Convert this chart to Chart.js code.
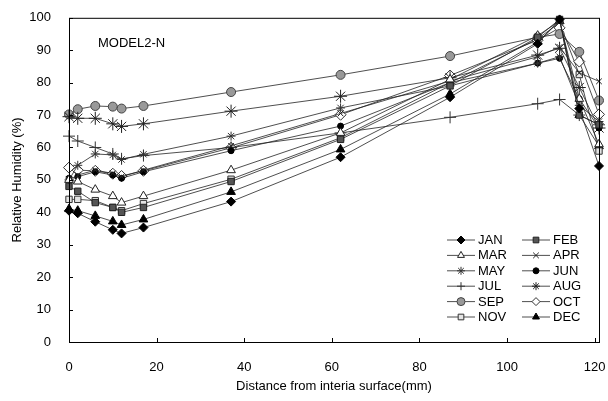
<!DOCTYPE html>
<html>
<head>
    <title>MODEL2-N Relative Humidity</title>
    <script src="https://cdn.jsdelivr.net/npm/chart.js"></script>
    <style>
        body { margin: 0; background: #fff; }
        #rhChart { display: block; }
    </style>
</head>
<body>
    <canvas id="rhChart" width="608" height="401"></canvas>

    <script>
        // distance from interior surface (mm)
        const distance = [0, 2, 6, 10, 12, 17, 37, 62, 87, 107, 112, 116.5, 121];

        // relative humidity (%) per month
        const jan = [40.5, 39.7, 37.1, 34.6, 33.5, 35.3, 43.3, 57.0, 75.5, 92.0, 99.5, 72.0, 54.3];
        const feb = [48.0, 46.5, 43.0, 41.5, 40.0, 41.5, 49.5, 62.5, 79.0, 94.0, 99.5, 70.0, 67.0];
        const mar = [50.0, 49.5, 47.0, 45.0, 43.0, 45.0, 53.0, 64.5, 81.0, 94.5, 99.0, 75.0, 61.0];
        const apr = [49.0, 51.5, 53.0, 52.0, 51.0, 53.0, 60.5, 70.5, 80.5, 88.0, 91.0, 83.0, 80.4];
        const may = [50.0, 54.5, 58.0, 57.7, 56.3, 57.9, 63.5, 72.2, 79.0, 86.0, 88.0, 73.0, 68.0];
        const jun = [50.5, 51.0, 52.5, 51.5, 50.5, 52.5, 59.0, 66.6, 80.0, 86.0, 87.5, 75.0, 66.0];
        const jul = [63.5, 62.0, 60.0, 58.0, 56.5, 57.5, 60.0, 64.5, 69.3, 73.5, 74.8, 70.0, 67.0];
        const aug = [69.5, 69.0, 69.0, 67.3, 66.5, 67.3, 71.2, 75.8, 81.5, 88.5, 90.6, 78.5, 66.0];
        const sep = [70.2, 71.8, 72.8, 72.6, 72.0, 72.8, 77.1, 82.4, 88.2, 94.0, 95.0, 89.5, 74.5];
        const oct = [53.8, 53.0, 52.8, 51.9, 51.2, 52.8, 59.9, 70.1, 82.2, 93.1, 96.9, 86.5, 70.2];
        const nov = [44.0, 44.0, 43.6, 41.5, 40.5, 42.7, 50.2, 63.0, 80.0, 93.5, 98.5, 82.5, 58.9];
        const dec = [41.0, 40.5, 38.9, 37.2, 36.1, 37.8, 46.3, 59.4, 76.5, 92.5, 99.0, 70.0, 60.4];

        const months = ['JAN', 'FEB', 'MAR', 'APR', 'MAY', 'JUN', 'JUL', 'AUG', 'SEP', 'OCT', 'NOV', 'DEC'];
        const values = [jan, feb, mar, apr, may, jun, jul, aug, sep, oct, nov, dec];

        const xTicks = [0, 20, 40, 60, 80, 100, 120];

        // marker look per month: [pointStyle, radius, fill, border]
        const markers = {
            JAN: ['rectRot', 4.5, '#000', '#000'],
            FEB: ['rect', 4.5, '#555', '#222'],
            MAR: ['triangle', 5, '#fff', '#222'],
            APR: ['crossRot', 4, '#fff', '#222'],
            MAY: ['star', 4.5, '#fff', '#333'],
            JUN: ['circle', 3, '#000', '#000'],
            JUL: ['cross', 6, '#fff', '#333'],
            AUG: ['star', 6.5, '#fff', '#222'],
            SEP: ['circle', 4.5, '#999', '#444'],
            OCT: ['rectRot', 5.5, '#fff', '#333'],
            NOV: ['rect', 4.5, '#e4e4e4', '#333'],
            DEC: ['triangle', 5, '#000', '#000']
        };

        const FONT = 'Liberation Sans, Arial, sans-serif';

        const datasets = months.map((m, i) => {
            const mk = markers[m];
            return {
                label: m,
                data: distance.map((d, j) => ({ x: d, y: values[i][j] })),
                borderColor: '#222',
                borderWidth: 0.8,
                pointStyle: mk[0],
                pointRadius: mk[1],
                pointBackgroundColor: mk[2],
                pointBorderColor: mk[3],
                pointBorderWidth: 1,
                tension: 0,
                clip: false
            };
        });

        // box round the plot + inward tick marks
        const framePlugin = {
            id: 'frame',
            afterDatasetsDraw(chart) {
                const { ctx, chartArea: a, scales } = chart;
                ctx.save();
                ctx.strokeStyle = '#000';
                ctx.lineWidth = 1;
                ctx.strokeRect(a.left + 0.5, a.top + 0.5, a.right - a.left, a.bottom - a.top);
                ctx.beginPath();
                xTicks.forEach(v => {
                    const px = Math.round(scales.x.getPixelForValue(v)) + 0.5;
                    ctx.moveTo(px, a.bottom);
                    ctx.lineTo(px, a.bottom - 4);
                });
                scales.y.ticks.forEach(t => {
                    const py = Math.round(scales.y.getPixelForValue(t.value)) + 0.5;
                    ctx.moveTo(a.left, py);
                    ctx.lineTo(a.left + 4, py);
                });
                ctx.stroke();

                ctx.fillStyle = '#000';
                ctx.font = '13px ' + FONT;
                ctx.textBaseline = 'middle';
                ctx.fillText('MODEL2-N', a.left + 29, a.top + 26);
                ctx.restore();
            }
        };

        // two-column legend inside the lower right of the plot
        const legendPlugin = {
            id: 'boxLegend',
            afterDraw(chart) {
                const { ctx, chartArea: a } = chart;
                const colX = [a.right - 152, a.right - 77];
                const rowY0 = a.bottom - 102;
                const rowH = 15.4;
                ctx.save();
                ctx.font = '13px ' + FONT;
                ctx.textBaseline = 'middle';
                chart.data.datasets.forEach((ds, i) => {
                    const x = colX[i % 2];
                    const y = rowY0 + Math.floor(i / 2) * rowH;
                    ctx.strokeStyle = '#222';
                    ctx.lineWidth = 0.8;
                    ctx.beginPath();
                    ctx.moveTo(x, y);
                    ctx.lineTo(x + 28, y);
                    ctx.stroke();
                    ctx.fillStyle = ds.pointBackgroundColor;
                    ctx.strokeStyle = ds.pointBorderColor;
                    ctx.lineWidth = 1;
                    Chart.helpers.drawPoint(ctx, {
                        pointStyle: ds.pointStyle,
                        radius: Math.min(ds.pointRadius, 4),
                        borderWidth: 1,
                        rotation: 0
                    }, x + 14, y);
                    ctx.fillStyle = '#000';
                    ctx.fillText(ds.label, x + 31, y + 0.5);
                });
                ctx.restore();
            }
        };

        new Chart(document.getElementById('rhChart'), {
            type: 'line',
            data: { datasets: datasets },
            options: {
                responsive: false,
                animation: false,
                layout: { padding: { top: 16, right: 9, bottom: 6, left: 0 } },
                plugins: {
                    legend: { display: false },
                    tooltip: { enabled: false }
                },
                scales: {
                    x: {
                        type: 'linear',
                        min: 0,
                        max: 121,
                        grid: { display: false },
                        border: { display: false },
                        afterBuildTicks: s => { s.ticks = xTicks.map(v => ({ value: v })); },
                        afterFit: s => {
                            s.height = 53;
                            s.paddingLeft = 0;
                            s.paddingRight = 0;
                        },
                        ticks: {
                            color: '#000',
                            font: { family: FONT, size: 13 },
                            padding: 10,
                            maxRotation: 0
                        },
                        title: {
                            display: true,
                            text: 'Distance from interia surface(mm)',
                            color: '#000',
                            font: { family: FONT, size: 13 },
                            padding: { top: 4, bottom: 1 }
                        }
                    },
                    y: {
                        min: 0,
                        max: 100,
                        grid: { display: false },
                        border: { display: false },
                        afterFit: s => { s.width = 69; },
                        ticks: {
                            stepSize: 10,
                            color: '#000',
                            font: { family: FONT, size: 13 },
                            padding: 10
                        },
                        title: {
                            display: true,
                            text: 'Relative Humidity (%)',
                            color: '#000',
                            font: { family: FONT, size: 13 },
                            padding: { top: 10, bottom: 4 }
                        }
                    }
                }
            },
            plugins: [framePlugin, legendPlugin]
        });
    </script>
</body>
</html>
